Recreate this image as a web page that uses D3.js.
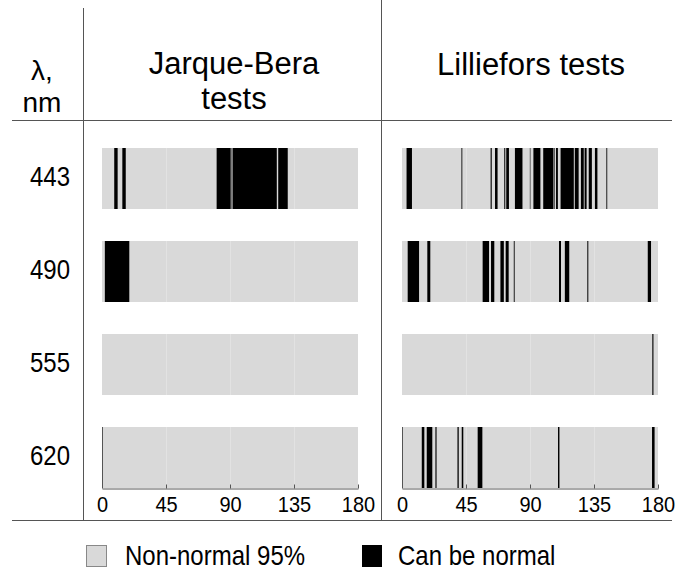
<!DOCTYPE html>
<html>
<head>
<meta charset="utf-8">
<script src="https://cdn.jsdelivr.net/npm/d3@7"></script>
<style>
  html, body { margin: 0; padding: 0; background: #fff; }
  svg { display: block; }
  text { font-family: "Liberation Sans", Arial, sans-serif; fill: #000; }
</style>
</head>
<body>
<svg id="chart" width="677" height="575"></svg>
<script>
// ---- Data (angles in degrees, intervals where the sample "can be normal") ----
const wavelengths = ["443", "490", "555", "620"];
const tickValues = [0, 45, 90, 135, 180];
const rowHeader = ["λ,", "nm"];
const panelTitles = [["Jarque-Bera", "tests"], ["Lilliefors tests"]];
const legendLabels = ["Non-normal 95%", "Can be normal"];

const jb443 = [[8.6, 11.0], [14.3, 16.7], [80.6, 91.0], [91.8, 122.9], [123.9, 130.6]];
const jb490 = [[2.0, 19.2]];
const jb555 = [];
const jb620 = [];

const lf443 = [[3.2, 7.0], [41.8, 42.4], [62.3, 63.1], [65.4, 67.2], [71.9, 72.6], [73.3, 75.2],
               [79.4, 84.7], [89.9, 90.4], [92.4, 97.3], [99.3, 106.5], [107.0, 107.4], [108.3, 109.6],
               [111.5, 120.8], [121.5, 124.2], [125.8, 127.8], [128.4, 129.8], [131.3, 133.5],
               [135.6, 137.4], [143.7, 144.3]];
const lf490 = [[4.0, 12.0], [17.8, 19.9], [56.7, 61.2], [62.6, 64.9], [69.2, 71.6], [72.9, 75.0],
               [78.6, 79.2], [110.4, 111.8], [114.5, 117.6], [130.3, 131.0], [172.8, 175.1]];
const lf555 = [[176.0, 176.8]];
const lf620 = [[13.9, 15.7], [17.4, 21.3], [23.5, 24.3], [39.0, 39.9], [42.0, 43.1], [53.2, 56.5],
               [109.7, 110.7], [175.8, 177.6]];

const jbData = [jb443, jb490, jb555, jb620];
const lfData = [lf443, lf490, lf555, lf620];

// ---- Drawing ----
const svg = d3.select("#chart");
const GRAY = "#d9d9d9";
const LINE = "#555";

function stretchedText(g, x, y, str, size, anchor, sy) {
  return g.append("text")
    .attr("transform", `translate(${x},${y}) scale(1,${sy})`)
    .attr("text-anchor", anchor || "middle")
    .style("font-size", size + "px")
    .text(str);
}

function multiLine(g, x, y, lines, size, lineStep) {
  lines.forEach((s, i) => {
    g.append("text")
      .attr("x", x).attr("y", y + i * lineStep)
      .attr("text-anchor", "middle")
      .style("font-size", size + "px")
      .text(s);
  });
}

const y = d3.scaleBand().domain(wavelengths).range([148, 488]).paddingInner(32 / 93).paddingOuter(0);
const xLeft = d3.scaleLinear().domain([0, 180]).range([102, 358]);
const xRight = d3.scaleLinear().domain([0, 180]).range([402, 658]);

// table lines
svg.append("line").attr("x1", 83.5).attr("x2", 83.5).attr("y1", 8).attr("y2", 520).attr("stroke", LINE);
svg.append("line").attr("x1", 381.5).attr("x2", 381.5).attr("y1", 0).attr("y2", 520).attr("stroke", LINE);
svg.append("line").attr("x1", 12).attr("x2", 672).attr("y1", 120.5).attr("y2", 120.5).attr("stroke", LINE);
svg.append("line").attr("x1", 12).attr("x2", 672).attr("y1", 520.5).attr("y2", 520.5).attr("stroke", LINE);

// headers
const hdr = svg.append("g");
multiLine(hdr, 42, 80, rowHeader, 28, 31.5);
multiLine(hdr, 234, 74, panelTitles[0], 31, 35);
multiLine(hdr, 531, 75, panelTitles[1], 31, 35);

// row labels
wavelengths.forEach(w => {
  stretchedText(svg, 50, y(w) + y.bandwidth() / 2 + 7, w, 24, "middle", 1.15);
});

function drawPanel(x, data) {
  const g = svg.append("g");
  wavelengths.forEach((w, i) => {
    const row = g.append("g");
    row.append("rect")
      .attr("x", x(0)).attr("y", y(w))
      .attr("width", x(180) - x(0)).attr("height", y.bandwidth())
      .attr("fill", GRAY);
    row.selectAll("rect.stripe").data(data[i]).join("rect")
      .attr("class", "stripe")
      .attr("x", d => x(d[0])).attr("y", y(w))
      .attr("width", d => x(d[1]) - x(d[0])).attr("height", y.bandwidth())
      .attr("fill", "#000");
    row.selectAll("line.grid").data([45, 90, 135]).join("line")
      .attr("class", "grid")
      .attr("x1", d => Math.round(x(d)) + 0.5).attr("x2", d => Math.round(x(d)) + 0.5)
      .attr("y1", y(w)).attr("y2", y(w) + y.bandwidth())
      .attr("stroke", "#fff").attr("stroke-opacity", 0.25);
  });
  const last = wavelengths[wavelengths.length - 1];
  const yb = y(last) + y.bandwidth();
  const axis = d3.axisBottom(x).tickValues(tickValues).tickSizeInner(-4).tickSizeOuter(0).tickFormat(d3.format("d"));
  const ag = g.append("g").attr("transform", `translate(0,${Math.round(yb) + 0.5})`).call(axis);
  ag.select(".domain").attr("stroke", LINE);
  ag.selectAll(".tick line").attr("stroke", LINE);
  ag.selectAll(".tick text")
    .attr("y", null).attr("dy", null)
    .attr("transform", `translate(0,23) scale(1,1.12)`)
    .style("font-size", "20px")
    .style("font-family", "'Liberation Sans', Arial, sans-serif")
    .attr("fill", "#000");
  g.append("line")
    .attr("x1", Math.round(x(0)) + 0.5).attr("x2", Math.round(x(0)) + 0.5)
    .attr("y1", y(last)).attr("y2", yb)
    .attr("stroke", LINE);
}

drawPanel(xLeft, jbData);
drawPanel(xRight, lfData);

// legend
const lg = svg.append("g");
lg.append("rect").attr("x", 86.5).attr("y", 545.5).attr("width", 20).attr("height", 21)
  .attr("fill", GRAY).attr("stroke", "#888");
stretchedText(lg, 125, 565, legendLabels[0], 24, "start", 1.15);
lg.append("rect").attr("x", 362).attr("y", 545).attr("width", 20).attr("height", 22).attr("fill", "#000");
stretchedText(lg, 398, 565, legendLabels[1], 24, "start", 1.15);
</script>
</body>
</html>
